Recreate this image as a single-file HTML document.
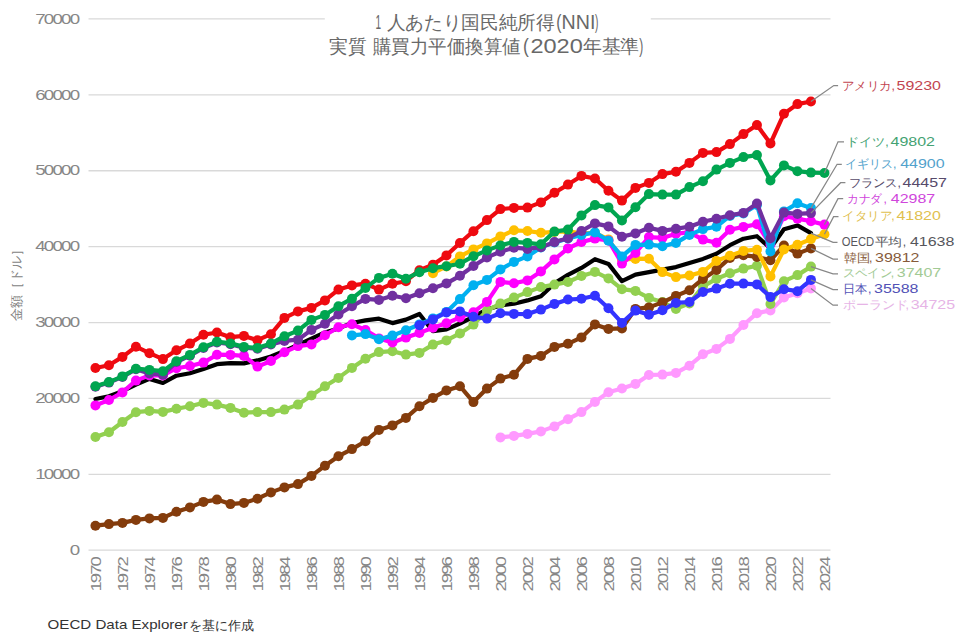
<!DOCTYPE html><html><head><meta charset="utf-8"><style>
html,body{margin:0;padding:0;background:#fff;}
body{width:975px;height:636px;overflow:hidden;position:relative;font-family:"Liberation Sans", sans-serif;}
svg{position:absolute;left:0;top:0;}
text{font-family:"Liberation Sans", sans-serif;}
</style></head><body>
<svg width="975" height="636" viewBox="0 0 975 636">
<line x1="88.5" y1="550.2" x2="830.5" y2="550.2" stroke="#d9d9d9" stroke-width="1.3"/>
<line x1="88.5" y1="474.31" x2="830.5" y2="474.31" stroke="#d9d9d9" stroke-width="1.3"/>
<line x1="88.5" y1="398.42" x2="830.5" y2="398.42" stroke="#d9d9d9" stroke-width="1.3"/>
<line x1="88.5" y1="322.53" x2="830.5" y2="322.53" stroke="#d9d9d9" stroke-width="1.3"/>
<line x1="88.5" y1="246.64" x2="830.5" y2="246.64" stroke="#d9d9d9" stroke-width="1.3"/>
<line x1="88.5" y1="170.75" x2="830.5" y2="170.75" stroke="#d9d9d9" stroke-width="1.3"/>
<line x1="88.5" y1="94.86" x2="830.5" y2="94.86" stroke="#d9d9d9" stroke-width="1.3"/>
<line x1="88.5" y1="18.97" x2="324.8" y2="18.97" stroke="#d9d9d9" stroke-width="1.3"/>
<line x1="650.8" y1="18.97" x2="830.5" y2="18.97" stroke="#d9d9d9" stroke-width="1.3"/>
<text transform="translate(78.4,554.9) scale(1.3,1)" font-size="14.4" letter-spacing="-1.35" fill="#878787" text-anchor="end">0</text>
<text transform="translate(78.4,479.01) scale(1.3,1)" font-size="14.4" letter-spacing="-1.35" fill="#878787" text-anchor="end">10000</text>
<text transform="translate(78.4,403.12) scale(1.3,1)" font-size="14.4" letter-spacing="-1.35" fill="#878787" text-anchor="end">20000</text>
<text transform="translate(78.4,327.23) scale(1.3,1)" font-size="14.4" letter-spacing="-1.35" fill="#878787" text-anchor="end">30000</text>
<text transform="translate(78.4,251.34) scale(1.3,1)" font-size="14.4" letter-spacing="-1.35" fill="#878787" text-anchor="end">40000</text>
<text transform="translate(78.4,175.45) scale(1.3,1)" font-size="14.4" letter-spacing="-1.35" fill="#878787" text-anchor="end">50000</text>
<text transform="translate(78.4,99.56) scale(1.3,1)" font-size="14.4" letter-spacing="-1.35" fill="#878787" text-anchor="end">60000</text>
<text transform="translate(78.4,23.67) scale(1.3,1)" font-size="14.4" letter-spacing="-1.35" fill="#878787" text-anchor="end">70000</text>
<text transform="translate(101.05,558.0) rotate(-90) scale(1.3,1)" font-size="14.2" letter-spacing="-1.45" fill="#868686" text-anchor="end">1970</text>
<text transform="translate(128.05,558.0) rotate(-90) scale(1.3,1)" font-size="14.2" letter-spacing="-1.45" fill="#868686" text-anchor="end">1972</text>
<text transform="translate(155.05,558.0) rotate(-90) scale(1.3,1)" font-size="14.2" letter-spacing="-1.45" fill="#868686" text-anchor="end">1974</text>
<text transform="translate(182.05,558.0) rotate(-90) scale(1.3,1)" font-size="14.2" letter-spacing="-1.45" fill="#868686" text-anchor="end">1976</text>
<text transform="translate(209.05,558.0) rotate(-90) scale(1.3,1)" font-size="14.2" letter-spacing="-1.45" fill="#868686" text-anchor="end">1978</text>
<text transform="translate(236.05,558.0) rotate(-90) scale(1.3,1)" font-size="14.2" letter-spacing="-1.45" fill="#868686" text-anchor="end">1980</text>
<text transform="translate(263.05,558.0) rotate(-90) scale(1.3,1)" font-size="14.2" letter-spacing="-1.45" fill="#868686" text-anchor="end">1982</text>
<text transform="translate(290.05,558.0) rotate(-90) scale(1.3,1)" font-size="14.2" letter-spacing="-1.45" fill="#868686" text-anchor="end">1984</text>
<text transform="translate(317.05,558.0) rotate(-90) scale(1.3,1)" font-size="14.2" letter-spacing="-1.45" fill="#868686" text-anchor="end">1986</text>
<text transform="translate(344.05,558.0) rotate(-90) scale(1.3,1)" font-size="14.2" letter-spacing="-1.45" fill="#868686" text-anchor="end">1988</text>
<text transform="translate(371.05,558.0) rotate(-90) scale(1.3,1)" font-size="14.2" letter-spacing="-1.45" fill="#868686" text-anchor="end">1990</text>
<text transform="translate(398.05,558.0) rotate(-90) scale(1.3,1)" font-size="14.2" letter-spacing="-1.45" fill="#868686" text-anchor="end">1992</text>
<text transform="translate(425.05,558.0) rotate(-90) scale(1.3,1)" font-size="14.2" letter-spacing="-1.45" fill="#868686" text-anchor="end">1994</text>
<text transform="translate(452.05,558.0) rotate(-90) scale(1.3,1)" font-size="14.2" letter-spacing="-1.45" fill="#868686" text-anchor="end">1996</text>
<text transform="translate(479.05,558.0) rotate(-90) scale(1.3,1)" font-size="14.2" letter-spacing="-1.45" fill="#868686" text-anchor="end">1998</text>
<text transform="translate(506.05,558.0) rotate(-90) scale(1.3,1)" font-size="14.2" letter-spacing="-1.45" fill="#868686" text-anchor="end">2000</text>
<text transform="translate(533.05,558.0) rotate(-90) scale(1.3,1)" font-size="14.2" letter-spacing="-1.45" fill="#868686" text-anchor="end">2002</text>
<text transform="translate(560.05,558.0) rotate(-90) scale(1.3,1)" font-size="14.2" letter-spacing="-1.45" fill="#868686" text-anchor="end">2004</text>
<text transform="translate(587.05,558.0) rotate(-90) scale(1.3,1)" font-size="14.2" letter-spacing="-1.45" fill="#868686" text-anchor="end">2006</text>
<text transform="translate(614.05,558.0) rotate(-90) scale(1.3,1)" font-size="14.2" letter-spacing="-1.45" fill="#868686" text-anchor="end">2008</text>
<text transform="translate(641.05,558.0) rotate(-90) scale(1.3,1)" font-size="14.2" letter-spacing="-1.45" fill="#868686" text-anchor="end">2010</text>
<text transform="translate(668.05,558.0) rotate(-90) scale(1.3,1)" font-size="14.2" letter-spacing="-1.45" fill="#868686" text-anchor="end">2012</text>
<text transform="translate(695.05,558.0) rotate(-90) scale(1.3,1)" font-size="14.2" letter-spacing="-1.45" fill="#868686" text-anchor="end">2014</text>
<text transform="translate(722.05,558.0) rotate(-90) scale(1.3,1)" font-size="14.2" letter-spacing="-1.45" fill="#868686" text-anchor="end">2016</text>
<text transform="translate(749.05,558.0) rotate(-90) scale(1.3,1)" font-size="14.2" letter-spacing="-1.45" fill="#868686" text-anchor="end">2018</text>
<text transform="translate(776.05,558.0) rotate(-90) scale(1.3,1)" font-size="14.2" letter-spacing="-1.45" fill="#868686" text-anchor="end">2020</text>
<text transform="translate(803.05,558.0) rotate(-90) scale(1.3,1)" font-size="14.2" letter-spacing="-1.45" fill="#868686" text-anchor="end">2022</text>
<text transform="translate(830.05,558.0) rotate(-90) scale(1.3,1)" font-size="14.2" letter-spacing="-1.45" fill="#868686" text-anchor="end">2024</text>
<path d="M500.45 437.4 L513.95 435.9 L527.45 433.9 L540.95 431.4 L554.45 426.4 L567.95 419.2 L581.45 412.1 L594.95 401.9 L608.45 392.2 L621.95 388.5 L635.45 383.9 L648.95 375 L662.45 374.6 L675.95 372.9 L689.45 365.7 L702.95 354.3 L716.45 348.9 L729.95 338.9 L743.45 325 L756.95 313.2 L770.45 310.4 L783.95 297.4 L797.45 293.2 L810.95 288.4" fill="none" stroke="#ff99ff" stroke-width="4.2" stroke-linejoin="round" stroke-linecap="round"/>
<g fill="#ff99ff">
<circle cx="500.45" cy="437.4" r="5.0"/>
<circle cx="513.95" cy="435.9" r="5.0"/>
<circle cx="527.45" cy="433.9" r="5.0"/>
<circle cx="540.95" cy="431.4" r="5.0"/>
<circle cx="554.45" cy="426.4" r="5.0"/>
<circle cx="567.95" cy="419.2" r="5.0"/>
<circle cx="581.45" cy="412.1" r="5.0"/>
<circle cx="594.95" cy="401.9" r="5.0"/>
<circle cx="608.45" cy="392.2" r="5.0"/>
<circle cx="621.95" cy="388.5" r="5.0"/>
<circle cx="635.45" cy="383.9" r="5.0"/>
<circle cx="648.95" cy="375" r="5.0"/>
<circle cx="662.45" cy="374.6" r="5.0"/>
<circle cx="675.95" cy="372.9" r="5.0"/>
<circle cx="689.45" cy="365.7" r="5.0"/>
<circle cx="702.95" cy="354.3" r="5.0"/>
<circle cx="716.45" cy="348.9" r="5.0"/>
<circle cx="729.95" cy="338.9" r="5.0"/>
<circle cx="743.45" cy="325" r="5.0"/>
<circle cx="756.95" cy="313.2" r="5.0"/>
<circle cx="770.45" cy="310.4" r="5.0"/>
<circle cx="783.95" cy="297.4" r="5.0"/>
<circle cx="797.45" cy="293.2" r="5.0"/>
<circle cx="810.95" cy="288.4" r="5.0"/>
</g>
<path d="M95.45 399 L108.95 396.2 L122.45 391.2 L135.95 384.6 L149.45 378.9 L162.95 383 L176.45 375.7 L189.95 373.2 L203.45 369 L216.95 364.2 L230.45 363.2 L243.95 363.4 L257.45 360.4 L270.95 356.5 L284.45 351 L297.95 344.9 L311.45 338.7 L324.95 332.4 L338.45 328.4 L351.95 323 L365.45 320.4 L378.95 318.7 L392.45 323.1 L405.95 319.6 L419.45 314 L432.95 331.2 L446.45 329.4 L459.95 323.5 L473.45 316.9 L486.95 309.4 L500.45 305.4 L513.95 303.7 L527.45 300.4 L540.95 296.2 L554.45 283.4 L567.95 274.9 L581.45 267.9 L594.95 259.2 L608.45 263.9 L621.95 281.2 L635.45 274.6 L648.95 272.1 L662.45 269.6 L675.95 267.1 L689.45 262.9 L702.95 258.9 L716.45 253.7 L729.95 245.2 L743.45 238.7 L756.95 236.2 L770.45 248.4 L783.95 229.2 L797.45 225.4 L810.95 233.1" fill="none" stroke="#000000" stroke-width="4.2" stroke-linejoin="round" stroke-linecap="round"/>
<path d="M95.45 437 L108.95 432.2 L122.45 422 L135.95 412.2 L149.45 410.9 L162.95 411.9 L176.45 408.7 L189.95 406.2 L203.45 402.9 L216.95 404.6 L230.45 407.9 L243.95 412.7 L257.45 412.1 L270.95 412.1 L284.45 409.6 L297.95 404.6 L311.45 395.4 L324.95 386.2 L338.45 377.9 L351.95 367.9 L365.45 358.7 L378.95 352.1 L392.45 351.2 L405.95 354.6 L419.45 352.9 L432.95 344.6 L446.45 340.4 L459.95 333.4 L473.45 324.6 L486.95 310.7 L500.45 303.6 L513.95 297.6 L527.45 292.1 L540.95 287.1 L554.45 284.6 L567.95 282 L581.45 275.9 L594.95 271.9 L608.45 278.4 L621.95 289.2 L635.45 290.9 L648.95 297.9 L662.45 302 L675.95 308.9 L689.45 303.4 L702.95 286.4 L716.45 278.9 L729.95 273.2 L743.45 268.6 L756.95 265.7 L770.45 304 L783.95 281.2 L797.45 275.1 L810.95 266.6" fill="none" stroke="#92d050" stroke-width="4.2" stroke-linejoin="round" stroke-linecap="round"/>
<g fill="#92d050">
<circle cx="95.45" cy="437" r="5.0"/>
<circle cx="108.95" cy="432.2" r="5.0"/>
<circle cx="122.45" cy="422" r="5.0"/>
<circle cx="135.95" cy="412.2" r="5.0"/>
<circle cx="149.45" cy="410.9" r="5.0"/>
<circle cx="162.95" cy="411.9" r="5.0"/>
<circle cx="176.45" cy="408.7" r="5.0"/>
<circle cx="189.95" cy="406.2" r="5.0"/>
<circle cx="203.45" cy="402.9" r="5.0"/>
<circle cx="216.95" cy="404.6" r="5.0"/>
<circle cx="230.45" cy="407.9" r="5.0"/>
<circle cx="243.95" cy="412.7" r="5.0"/>
<circle cx="257.45" cy="412.1" r="5.0"/>
<circle cx="270.95" cy="412.1" r="5.0"/>
<circle cx="284.45" cy="409.6" r="5.0"/>
<circle cx="297.95" cy="404.6" r="5.0"/>
<circle cx="311.45" cy="395.4" r="5.0"/>
<circle cx="324.95" cy="386.2" r="5.0"/>
<circle cx="338.45" cy="377.9" r="5.0"/>
<circle cx="351.95" cy="367.9" r="5.0"/>
<circle cx="365.45" cy="358.7" r="5.0"/>
<circle cx="378.95" cy="352.1" r="5.0"/>
<circle cx="392.45" cy="351.2" r="5.0"/>
<circle cx="405.95" cy="354.6" r="5.0"/>
<circle cx="419.45" cy="352.9" r="5.0"/>
<circle cx="432.95" cy="344.6" r="5.0"/>
<circle cx="446.45" cy="340.4" r="5.0"/>
<circle cx="459.95" cy="333.4" r="5.0"/>
<circle cx="473.45" cy="324.6" r="5.0"/>
<circle cx="486.95" cy="310.7" r="5.0"/>
<circle cx="500.45" cy="303.6" r="5.0"/>
<circle cx="513.95" cy="297.6" r="5.0"/>
<circle cx="527.45" cy="292.1" r="5.0"/>
<circle cx="540.95" cy="287.1" r="5.0"/>
<circle cx="554.45" cy="284.6" r="5.0"/>
<circle cx="567.95" cy="282" r="5.0"/>
<circle cx="581.45" cy="275.9" r="5.0"/>
<circle cx="594.95" cy="271.9" r="5.0"/>
<circle cx="608.45" cy="278.4" r="5.0"/>
<circle cx="621.95" cy="289.2" r="5.0"/>
<circle cx="635.45" cy="290.9" r="5.0"/>
<circle cx="648.95" cy="297.9" r="5.0"/>
<circle cx="662.45" cy="302" r="5.0"/>
<circle cx="675.95" cy="308.9" r="5.0"/>
<circle cx="689.45" cy="303.4" r="5.0"/>
<circle cx="702.95" cy="286.4" r="5.0"/>
<circle cx="716.45" cy="278.9" r="5.0"/>
<circle cx="729.95" cy="273.2" r="5.0"/>
<circle cx="743.45" cy="268.6" r="5.0"/>
<circle cx="756.95" cy="265.7" r="5.0"/>
<circle cx="770.45" cy="304" r="5.0"/>
<circle cx="783.95" cy="281.2" r="5.0"/>
<circle cx="797.45" cy="275.1" r="5.0"/>
<circle cx="810.95" cy="266.6" r="5.0"/>
</g>
<path d="M95.45 525.7 L108.95 524.1 L122.45 522.9 L135.95 519.9 L149.45 518.4 L162.95 517.9 L176.45 511.7 L189.95 507.4 L203.45 501.9 L216.95 499.6 L230.45 504.1 L243.95 502.9 L257.45 498.7 L270.95 492.4 L284.45 487.4 L297.95 484.1 L311.45 475.9 L324.95 465.7 L338.45 456.2 L351.95 449.1 L365.45 441.2 L378.95 429.9 L392.45 425.4 L405.95 417.9 L419.45 406.2 L432.95 397.9 L446.45 390.4 L459.95 386.2 L473.45 402.1 L486.95 388.6 L500.45 378.6 L513.95 374.8 L527.45 358.9 L540.95 355.9 L554.45 346.9 L567.95 343.8 L581.45 337.4 L594.95 324.4 L608.45 328.9 L621.95 328.4 L635.45 308.9 L648.95 307.4 L662.45 302.4 L675.95 295.9 L689.45 290.2 L702.95 278.9 L716.45 269.9 L729.95 257.9 L743.45 255.2 L756.95 256.9 L770.45 260.2 L783.95 245.6 L797.45 253.6 L810.95 248.4" fill="none" stroke="#843c0c" stroke-width="4.2" stroke-linejoin="round" stroke-linecap="round"/>
<g fill="#843c0c">
<circle cx="95.45" cy="525.7" r="5.0"/>
<circle cx="108.95" cy="524.1" r="5.0"/>
<circle cx="122.45" cy="522.9" r="5.0"/>
<circle cx="135.95" cy="519.9" r="5.0"/>
<circle cx="149.45" cy="518.4" r="5.0"/>
<circle cx="162.95" cy="517.9" r="5.0"/>
<circle cx="176.45" cy="511.7" r="5.0"/>
<circle cx="189.95" cy="507.4" r="5.0"/>
<circle cx="203.45" cy="501.9" r="5.0"/>
<circle cx="216.95" cy="499.6" r="5.0"/>
<circle cx="230.45" cy="504.1" r="5.0"/>
<circle cx="243.95" cy="502.9" r="5.0"/>
<circle cx="257.45" cy="498.7" r="5.0"/>
<circle cx="270.95" cy="492.4" r="5.0"/>
<circle cx="284.45" cy="487.4" r="5.0"/>
<circle cx="297.95" cy="484.1" r="5.0"/>
<circle cx="311.45" cy="475.9" r="5.0"/>
<circle cx="324.95" cy="465.7" r="5.0"/>
<circle cx="338.45" cy="456.2" r="5.0"/>
<circle cx="351.95" cy="449.1" r="5.0"/>
<circle cx="365.45" cy="441.2" r="5.0"/>
<circle cx="378.95" cy="429.9" r="5.0"/>
<circle cx="392.45" cy="425.4" r="5.0"/>
<circle cx="405.95" cy="417.9" r="5.0"/>
<circle cx="419.45" cy="406.2" r="5.0"/>
<circle cx="432.95" cy="397.9" r="5.0"/>
<circle cx="446.45" cy="390.4" r="5.0"/>
<circle cx="459.95" cy="386.2" r="5.0"/>
<circle cx="473.45" cy="402.1" r="5.0"/>
<circle cx="486.95" cy="388.6" r="5.0"/>
<circle cx="500.45" cy="378.6" r="5.0"/>
<circle cx="513.95" cy="374.8" r="5.0"/>
<circle cx="527.45" cy="358.9" r="5.0"/>
<circle cx="540.95" cy="355.9" r="5.0"/>
<circle cx="554.45" cy="346.9" r="5.0"/>
<circle cx="567.95" cy="343.8" r="5.0"/>
<circle cx="581.45" cy="337.4" r="5.0"/>
<circle cx="594.95" cy="324.4" r="5.0"/>
<circle cx="608.45" cy="328.9" r="5.0"/>
<circle cx="621.95" cy="328.4" r="5.0"/>
<circle cx="635.45" cy="308.9" r="5.0"/>
<circle cx="648.95" cy="307.4" r="5.0"/>
<circle cx="662.45" cy="302.4" r="5.0"/>
<circle cx="675.95" cy="295.9" r="5.0"/>
<circle cx="689.45" cy="290.2" r="5.0"/>
<circle cx="702.95" cy="278.9" r="5.0"/>
<circle cx="716.45" cy="269.9" r="5.0"/>
<circle cx="729.95" cy="257.9" r="5.0"/>
<circle cx="743.45" cy="255.2" r="5.0"/>
<circle cx="756.95" cy="256.9" r="5.0"/>
<circle cx="770.45" cy="260.2" r="5.0"/>
<circle cx="783.95" cy="245.6" r="5.0"/>
<circle cx="797.45" cy="253.6" r="5.0"/>
<circle cx="810.95" cy="248.4" r="5.0"/>
</g>
<path d="M432.95 273.2 L446.45 266.4 L459.95 256.4 L473.45 249.4 L486.95 243.4 L500.45 236.4 L513.95 230.3 L527.45 231 L540.95 232.8 L554.45 231.9 L567.95 231.4 L581.45 233.4 L594.95 232.9 L608.45 239.4 L621.95 259.4 L635.45 258.9 L648.95 258.7 L662.45 272.1 L675.95 277.1 L689.45 275.5 L702.95 271.9 L716.45 260.9 L729.95 255.7 L743.45 250.9 L756.95 249.7 L770.45 276.4 L783.95 249.5 L797.45 244.7 L810.95 239.1 L824.45 234.2" fill="none" stroke="#ffc000" stroke-width="4.2" stroke-linejoin="round" stroke-linecap="round"/>
<g fill="#ffc000">
<circle cx="432.95" cy="273.2" r="5.0"/>
<circle cx="446.45" cy="266.4" r="5.0"/>
<circle cx="459.95" cy="256.4" r="5.0"/>
<circle cx="473.45" cy="249.4" r="5.0"/>
<circle cx="486.95" cy="243.4" r="5.0"/>
<circle cx="500.45" cy="236.4" r="5.0"/>
<circle cx="513.95" cy="230.3" r="5.0"/>
<circle cx="527.45" cy="231" r="5.0"/>
<circle cx="540.95" cy="232.8" r="5.0"/>
<circle cx="554.45" cy="231.9" r="5.0"/>
<circle cx="567.95" cy="231.4" r="5.0"/>
<circle cx="581.45" cy="233.4" r="5.0"/>
<circle cx="594.95" cy="232.9" r="5.0"/>
<circle cx="608.45" cy="239.4" r="5.0"/>
<circle cx="621.95" cy="259.4" r="5.0"/>
<circle cx="635.45" cy="258.9" r="5.0"/>
<circle cx="648.95" cy="258.7" r="5.0"/>
<circle cx="662.45" cy="272.1" r="5.0"/>
<circle cx="675.95" cy="277.1" r="5.0"/>
<circle cx="689.45" cy="275.5" r="5.0"/>
<circle cx="702.95" cy="271.9" r="5.0"/>
<circle cx="716.45" cy="260.9" r="5.0"/>
<circle cx="729.95" cy="255.7" r="5.0"/>
<circle cx="743.45" cy="250.9" r="5.0"/>
<circle cx="756.95" cy="249.7" r="5.0"/>
<circle cx="770.45" cy="276.4" r="5.0"/>
<circle cx="783.95" cy="249.5" r="5.0"/>
<circle cx="797.45" cy="244.7" r="5.0"/>
<circle cx="810.95" cy="239.1" r="5.0"/>
<circle cx="824.45" cy="234.2" r="5.0"/>
</g>
<path d="M95.45 405.4 L108.95 400 L122.45 392.4 L135.95 380.6 L149.45 375.4 L162.95 375.4 L176.45 368.2 L189.95 366 L203.45 362.6 L216.95 354.7 L230.45 354.9 L243.95 355.9 L257.45 366.6 L270.95 361 L284.45 352.2 L297.95 346.1 L311.45 344.4 L324.95 335.2 L338.45 327.2 L351.95 324.2 L365.45 330 L378.95 338.4 L392.45 342.4 L405.95 337.6 L419.45 332.9 L432.95 327.7 L446.45 323.3 L459.95 317.4 L473.45 312.2 L486.95 301.9 L500.45 281.9 L513.95 283.2 L527.45 280.4 L540.95 271.4 L554.45 259.4 L567.95 248.4 L581.45 242 L594.95 238.6 L608.45 240.4 L621.95 263.6 L635.45 252.9 L648.95 237.1 L662.45 237.9 L675.95 233.7 L689.45 232.4 L702.95 239.6 L716.45 242.7 L729.95 229.8 L743.45 226.9 L756.95 224.2 L770.45 244.4 L783.95 216.2 L797.45 218.6 L810.95 221.2 L824.45 224.6" fill="none" stroke="#ff00ff" stroke-width="4.2" stroke-linejoin="round" stroke-linecap="round"/>
<g fill="#ff00ff">
<circle cx="95.45" cy="405.4" r="5.0"/>
<circle cx="108.95" cy="400" r="5.0"/>
<circle cx="122.45" cy="392.4" r="5.0"/>
<circle cx="135.95" cy="380.6" r="5.0"/>
<circle cx="149.45" cy="375.4" r="5.0"/>
<circle cx="162.95" cy="375.4" r="5.0"/>
<circle cx="176.45" cy="368.2" r="5.0"/>
<circle cx="189.95" cy="366" r="5.0"/>
<circle cx="203.45" cy="362.6" r="5.0"/>
<circle cx="216.95" cy="354.7" r="5.0"/>
<circle cx="230.45" cy="354.9" r="5.0"/>
<circle cx="243.95" cy="355.9" r="5.0"/>
<circle cx="257.45" cy="366.6" r="5.0"/>
<circle cx="270.95" cy="361" r="5.0"/>
<circle cx="284.45" cy="352.2" r="5.0"/>
<circle cx="297.95" cy="346.1" r="5.0"/>
<circle cx="311.45" cy="344.4" r="5.0"/>
<circle cx="324.95" cy="335.2" r="5.0"/>
<circle cx="338.45" cy="327.2" r="5.0"/>
<circle cx="351.95" cy="324.2" r="5.0"/>
<circle cx="365.45" cy="330" r="5.0"/>
<circle cx="378.95" cy="338.4" r="5.0"/>
<circle cx="392.45" cy="342.4" r="5.0"/>
<circle cx="405.95" cy="337.6" r="5.0"/>
<circle cx="419.45" cy="332.9" r="5.0"/>
<circle cx="432.95" cy="327.7" r="5.0"/>
<circle cx="446.45" cy="323.3" r="5.0"/>
<circle cx="459.95" cy="317.4" r="5.0"/>
<circle cx="473.45" cy="312.2" r="5.0"/>
<circle cx="486.95" cy="301.9" r="5.0"/>
<circle cx="500.45" cy="281.9" r="5.0"/>
<circle cx="513.95" cy="283.2" r="5.0"/>
<circle cx="527.45" cy="280.4" r="5.0"/>
<circle cx="540.95" cy="271.4" r="5.0"/>
<circle cx="554.45" cy="259.4" r="5.0"/>
<circle cx="567.95" cy="248.4" r="5.0"/>
<circle cx="581.45" cy="242" r="5.0"/>
<circle cx="594.95" cy="238.6" r="5.0"/>
<circle cx="608.45" cy="240.4" r="5.0"/>
<circle cx="621.95" cy="263.6" r="5.0"/>
<circle cx="635.45" cy="252.9" r="5.0"/>
<circle cx="648.95" cy="237.1" r="5.0"/>
<circle cx="662.45" cy="237.9" r="5.0"/>
<circle cx="675.95" cy="233.7" r="5.0"/>
<circle cx="689.45" cy="232.4" r="5.0"/>
<circle cx="702.95" cy="239.6" r="5.0"/>
<circle cx="716.45" cy="242.7" r="5.0"/>
<circle cx="729.95" cy="229.8" r="5.0"/>
<circle cx="743.45" cy="226.9" r="5.0"/>
<circle cx="756.95" cy="224.2" r="5.0"/>
<circle cx="770.45" cy="244.4" r="5.0"/>
<circle cx="783.95" cy="216.2" r="5.0"/>
<circle cx="797.45" cy="218.6" r="5.0"/>
<circle cx="810.95" cy="221.2" r="5.0"/>
<circle cx="824.45" cy="224.6" r="5.0"/>
</g>
<path d="M351.95 335.4 L365.45 334.1 L378.95 339.3 L392.45 335.6 L405.95 330.2 L419.45 324.4 L432.95 318.4 L446.45 311.9 L459.95 299.1 L473.45 285.2 L486.95 279.9 L500.45 269.4 L513.95 261.9 L527.45 256.4 L540.95 247.4 L554.45 242.4 L567.95 238.4 L581.45 234.9 L594.95 232.4 L608.45 240.7 L621.95 256.4 L635.45 244.9 L648.95 244.6 L662.45 246.2 L675.95 242.9 L689.45 234.9 L702.95 229.1 L716.45 226.7 L729.95 215.9 L743.45 213.4 L756.95 204.9 L770.45 251.4 L783.95 211.4 L797.45 203.2 L810.95 208.1" fill="none" stroke="#00b0f0" stroke-width="4.2" stroke-linejoin="round" stroke-linecap="round"/>
<g fill="#00b0f0">
<circle cx="351.95" cy="335.4" r="5.0"/>
<circle cx="365.45" cy="334.1" r="5.0"/>
<circle cx="378.95" cy="339.3" r="5.0"/>
<circle cx="392.45" cy="335.6" r="5.0"/>
<circle cx="405.95" cy="330.2" r="5.0"/>
<circle cx="419.45" cy="324.4" r="5.0"/>
<circle cx="432.95" cy="318.4" r="5.0"/>
<circle cx="446.45" cy="311.9" r="5.0"/>
<circle cx="459.95" cy="299.1" r="5.0"/>
<circle cx="473.45" cy="285.2" r="5.0"/>
<circle cx="486.95" cy="279.9" r="5.0"/>
<circle cx="500.45" cy="269.4" r="5.0"/>
<circle cx="513.95" cy="261.9" r="5.0"/>
<circle cx="527.45" cy="256.4" r="5.0"/>
<circle cx="540.95" cy="247.4" r="5.0"/>
<circle cx="554.45" cy="242.4" r="5.0"/>
<circle cx="567.95" cy="238.4" r="5.0"/>
<circle cx="581.45" cy="234.9" r="5.0"/>
<circle cx="594.95" cy="232.4" r="5.0"/>
<circle cx="608.45" cy="240.7" r="5.0"/>
<circle cx="621.95" cy="256.4" r="5.0"/>
<circle cx="635.45" cy="244.9" r="5.0"/>
<circle cx="648.95" cy="244.6" r="5.0"/>
<circle cx="662.45" cy="246.2" r="5.0"/>
<circle cx="675.95" cy="242.9" r="5.0"/>
<circle cx="689.45" cy="234.9" r="5.0"/>
<circle cx="702.95" cy="229.1" r="5.0"/>
<circle cx="716.45" cy="226.7" r="5.0"/>
<circle cx="729.95" cy="215.9" r="5.0"/>
<circle cx="743.45" cy="213.4" r="5.0"/>
<circle cx="756.95" cy="204.9" r="5.0"/>
<circle cx="770.45" cy="251.4" r="5.0"/>
<circle cx="783.95" cy="211.4" r="5.0"/>
<circle cx="797.45" cy="203.2" r="5.0"/>
<circle cx="810.95" cy="208.1" r="5.0"/>
</g>
<path d="M95.45 386.7 L108.95 382.6 L122.45 376.9 L135.95 369.2 L149.45 373.4 L162.95 374.7 L176.45 362 L189.95 355.7 L203.45 348 L216.95 342.5 L230.45 344.2 L243.95 347.7 L257.45 348.7 L270.95 344.4 L284.45 340.9 L297.95 339.7 L311.45 329.9 L324.95 323.8 L338.45 314.4 L351.95 306.2 L365.45 298.9 L378.95 299.9 L392.45 295.8 L405.95 298.2 L419.45 293.2 L432.95 288.2 L446.45 283.4 L459.95 275.8 L473.45 266 L486.95 257.4 L500.45 251.7 L513.95 247.7 L527.45 248.9 L540.95 247.2 L554.45 242.1 L567.95 238.2 L581.45 231 L594.95 223.4 L608.45 226.4 L621.95 236.7 L635.45 233.4 L648.95 227.7 L662.45 230.9 L675.95 228.7 L689.45 226.7 L702.95 221.7 L716.45 218.7 L729.95 215.2 L743.45 212.9 L756.95 203.5 L770.45 238.2 L783.95 212.6 L797.45 213.9 L810.95 213.1" fill="none" stroke="#7030a0" stroke-width="4.2" stroke-linejoin="round" stroke-linecap="round"/>
<g fill="#7030a0">
<circle cx="95.45" cy="386.7" r="5.0"/>
<circle cx="108.95" cy="382.6" r="5.0"/>
<circle cx="122.45" cy="376.9" r="5.0"/>
<circle cx="135.95" cy="369.2" r="5.0"/>
<circle cx="149.45" cy="373.4" r="5.0"/>
<circle cx="162.95" cy="374.7" r="5.0"/>
<circle cx="176.45" cy="362" r="5.0"/>
<circle cx="189.95" cy="355.7" r="5.0"/>
<circle cx="203.45" cy="348" r="5.0"/>
<circle cx="216.95" cy="342.5" r="5.0"/>
<circle cx="230.45" cy="344.2" r="5.0"/>
<circle cx="243.95" cy="347.7" r="5.0"/>
<circle cx="257.45" cy="348.7" r="5.0"/>
<circle cx="270.95" cy="344.4" r="5.0"/>
<circle cx="284.45" cy="340.9" r="5.0"/>
<circle cx="297.95" cy="339.7" r="5.0"/>
<circle cx="311.45" cy="329.9" r="5.0"/>
<circle cx="324.95" cy="323.8" r="5.0"/>
<circle cx="338.45" cy="314.4" r="5.0"/>
<circle cx="351.95" cy="306.2" r="5.0"/>
<circle cx="365.45" cy="298.9" r="5.0"/>
<circle cx="378.95" cy="299.9" r="5.0"/>
<circle cx="392.45" cy="295.8" r="5.0"/>
<circle cx="405.95" cy="298.2" r="5.0"/>
<circle cx="419.45" cy="293.2" r="5.0"/>
<circle cx="432.95" cy="288.2" r="5.0"/>
<circle cx="446.45" cy="283.4" r="5.0"/>
<circle cx="459.95" cy="275.8" r="5.0"/>
<circle cx="473.45" cy="266" r="5.0"/>
<circle cx="486.95" cy="257.4" r="5.0"/>
<circle cx="500.45" cy="251.7" r="5.0"/>
<circle cx="513.95" cy="247.7" r="5.0"/>
<circle cx="527.45" cy="248.9" r="5.0"/>
<circle cx="540.95" cy="247.2" r="5.0"/>
<circle cx="554.45" cy="242.1" r="5.0"/>
<circle cx="567.95" cy="238.2" r="5.0"/>
<circle cx="581.45" cy="231" r="5.0"/>
<circle cx="594.95" cy="223.4" r="5.0"/>
<circle cx="608.45" cy="226.4" r="5.0"/>
<circle cx="621.95" cy="236.7" r="5.0"/>
<circle cx="635.45" cy="233.4" r="5.0"/>
<circle cx="648.95" cy="227.7" r="5.0"/>
<circle cx="662.45" cy="230.9" r="5.0"/>
<circle cx="675.95" cy="228.7" r="5.0"/>
<circle cx="689.45" cy="226.7" r="5.0"/>
<circle cx="702.95" cy="221.7" r="5.0"/>
<circle cx="716.45" cy="218.7" r="5.0"/>
<circle cx="729.95" cy="215.2" r="5.0"/>
<circle cx="743.45" cy="212.9" r="5.0"/>
<circle cx="756.95" cy="203.5" r="5.0"/>
<circle cx="770.45" cy="238.2" r="5.0"/>
<circle cx="783.95" cy="212.6" r="5.0"/>
<circle cx="797.45" cy="213.9" r="5.0"/>
<circle cx="810.95" cy="213.1" r="5.0"/>
</g>
<path d="M95.45 368 L108.95 365.2 L122.45 356.9 L135.95 346.7 L149.45 353.2 L162.95 359.1 L176.45 350.3 L189.95 343.6 L203.45 334.8 L216.95 332.5 L230.45 337.2 L243.95 335.9 L257.45 340.2 L270.95 334.2 L284.45 317.9 L297.95 311.4 L311.45 307.9 L324.95 300.4 L338.45 289.6 L351.95 285.4 L365.45 283.7 L378.95 289.6 L392.45 283.7 L405.95 281.2 L419.45 270.2 L432.95 264.7 L446.45 255.4 L459.95 243 L473.45 231.2 L486.95 220.1 L500.45 209.1 L513.95 207.9 L527.45 207.6 L540.95 202.4 L554.45 192.7 L567.95 184.6 L581.45 175.9 L594.95 178.5 L608.45 190.7 L621.95 200.6 L635.45 187.9 L648.95 182.9 L662.45 174.1 L675.95 171.7 L689.45 162.9 L702.95 152.9 L716.45 152.1 L729.95 144.1 L743.45 134.1 L756.95 125.1 L770.45 143.4 L783.95 113.7 L797.45 104.1 L810.95 101.5" fill="none" stroke="#ee0a10" stroke-width="4.2" stroke-linejoin="round" stroke-linecap="round"/>
<g fill="#ee0a10">
<circle cx="95.45" cy="368" r="5.0"/>
<circle cx="108.95" cy="365.2" r="5.0"/>
<circle cx="122.45" cy="356.9" r="5.0"/>
<circle cx="135.95" cy="346.7" r="5.0"/>
<circle cx="149.45" cy="353.2" r="5.0"/>
<circle cx="162.95" cy="359.1" r="5.0"/>
<circle cx="176.45" cy="350.3" r="5.0"/>
<circle cx="189.95" cy="343.6" r="5.0"/>
<circle cx="203.45" cy="334.8" r="5.0"/>
<circle cx="216.95" cy="332.5" r="5.0"/>
<circle cx="230.45" cy="337.2" r="5.0"/>
<circle cx="243.95" cy="335.9" r="5.0"/>
<circle cx="257.45" cy="340.2" r="5.0"/>
<circle cx="270.95" cy="334.2" r="5.0"/>
<circle cx="284.45" cy="317.9" r="5.0"/>
<circle cx="297.95" cy="311.4" r="5.0"/>
<circle cx="311.45" cy="307.9" r="5.0"/>
<circle cx="324.95" cy="300.4" r="5.0"/>
<circle cx="338.45" cy="289.6" r="5.0"/>
<circle cx="351.95" cy="285.4" r="5.0"/>
<circle cx="365.45" cy="283.7" r="5.0"/>
<circle cx="378.95" cy="289.6" r="5.0"/>
<circle cx="392.45" cy="283.7" r="5.0"/>
<circle cx="405.95" cy="281.2" r="5.0"/>
<circle cx="419.45" cy="270.2" r="5.0"/>
<circle cx="432.95" cy="264.7" r="5.0"/>
<circle cx="446.45" cy="255.4" r="5.0"/>
<circle cx="459.95" cy="243" r="5.0"/>
<circle cx="473.45" cy="231.2" r="5.0"/>
<circle cx="486.95" cy="220.1" r="5.0"/>
<circle cx="500.45" cy="209.1" r="5.0"/>
<circle cx="513.95" cy="207.9" r="5.0"/>
<circle cx="527.45" cy="207.6" r="5.0"/>
<circle cx="540.95" cy="202.4" r="5.0"/>
<circle cx="554.45" cy="192.7" r="5.0"/>
<circle cx="567.95" cy="184.6" r="5.0"/>
<circle cx="581.45" cy="175.9" r="5.0"/>
<circle cx="594.95" cy="178.5" r="5.0"/>
<circle cx="608.45" cy="190.7" r="5.0"/>
<circle cx="621.95" cy="200.6" r="5.0"/>
<circle cx="635.45" cy="187.9" r="5.0"/>
<circle cx="648.95" cy="182.9" r="5.0"/>
<circle cx="662.45" cy="174.1" r="5.0"/>
<circle cx="675.95" cy="171.7" r="5.0"/>
<circle cx="689.45" cy="162.9" r="5.0"/>
<circle cx="702.95" cy="152.9" r="5.0"/>
<circle cx="716.45" cy="152.1" r="5.0"/>
<circle cx="729.95" cy="144.1" r="5.0"/>
<circle cx="743.45" cy="134.1" r="5.0"/>
<circle cx="756.95" cy="125.1" r="5.0"/>
<circle cx="770.45" cy="143.4" r="5.0"/>
<circle cx="783.95" cy="113.7" r="5.0"/>
<circle cx="797.45" cy="104.1" r="5.0"/>
<circle cx="810.95" cy="101.5" r="5.0"/>
</g>
<path d="M95.45 386.2 L108.95 382.1 L122.45 376.4 L135.95 368.7 L149.45 369.9 L162.95 371.2 L176.45 361.2 L189.95 354.9 L203.45 347.2 L216.95 341.7 L230.45 343.4 L243.95 346.9 L257.45 347.9 L270.95 343.6 L284.45 336.2 L297.95 330.6 L311.45 319.9 L324.95 314.9 L338.45 306.2 L351.95 298.7 L365.45 287.9 L378.95 277.9 L392.45 273.7 L405.95 278.7 L419.45 272.2 L432.95 268.2 L446.45 266.2 L459.95 263.7 L473.45 256.2 L486.95 250.4 L500.45 245.4 L513.95 241.9 L527.45 242.9 L540.95 244.3 L554.45 231.6 L567.95 229.6 L581.45 215.4 L594.95 205.1 L608.45 207.4 L621.95 220.5 L635.45 207.2 L648.95 194.1 L662.45 194.6 L675.95 194.6 L689.45 187.1 L702.95 181.2 L716.45 169.6 L729.95 162.9 L743.45 157.1 L756.95 155.1 L770.45 180.4 L783.95 165.4 L797.45 171.2 L810.95 172.6 L824.45 173" fill="none" stroke="#00a550" stroke-width="4.2" stroke-linejoin="round" stroke-linecap="round"/>
<g fill="#00a550">
<circle cx="95.45" cy="386.2" r="5.0"/>
<circle cx="108.95" cy="382.1" r="5.0"/>
<circle cx="122.45" cy="376.4" r="5.0"/>
<circle cx="135.95" cy="368.7" r="5.0"/>
<circle cx="149.45" cy="369.9" r="5.0"/>
<circle cx="162.95" cy="371.2" r="5.0"/>
<circle cx="176.45" cy="361.2" r="5.0"/>
<circle cx="189.95" cy="354.9" r="5.0"/>
<circle cx="203.45" cy="347.2" r="5.0"/>
<circle cx="216.95" cy="341.7" r="5.0"/>
<circle cx="230.45" cy="343.4" r="5.0"/>
<circle cx="243.95" cy="346.9" r="5.0"/>
<circle cx="257.45" cy="347.9" r="5.0"/>
<circle cx="270.95" cy="343.6" r="5.0"/>
<circle cx="284.45" cy="336.2" r="5.0"/>
<circle cx="297.95" cy="330.6" r="5.0"/>
<circle cx="311.45" cy="319.9" r="5.0"/>
<circle cx="324.95" cy="314.9" r="5.0"/>
<circle cx="338.45" cy="306.2" r="5.0"/>
<circle cx="351.95" cy="298.7" r="5.0"/>
<circle cx="365.45" cy="287.9" r="5.0"/>
<circle cx="378.95" cy="277.9" r="5.0"/>
<circle cx="392.45" cy="273.7" r="5.0"/>
<circle cx="405.95" cy="278.7" r="5.0"/>
<circle cx="419.45" cy="272.2" r="5.0"/>
<circle cx="432.95" cy="268.2" r="5.0"/>
<circle cx="446.45" cy="266.2" r="5.0"/>
<circle cx="459.95" cy="263.7" r="5.0"/>
<circle cx="473.45" cy="256.2" r="5.0"/>
<circle cx="486.95" cy="250.4" r="5.0"/>
<circle cx="500.45" cy="245.4" r="5.0"/>
<circle cx="513.95" cy="241.9" r="5.0"/>
<circle cx="527.45" cy="242.9" r="5.0"/>
<circle cx="540.95" cy="244.3" r="5.0"/>
<circle cx="554.45" cy="231.6" r="5.0"/>
<circle cx="567.95" cy="229.6" r="5.0"/>
<circle cx="581.45" cy="215.4" r="5.0"/>
<circle cx="594.95" cy="205.1" r="5.0"/>
<circle cx="608.45" cy="207.4" r="5.0"/>
<circle cx="621.95" cy="220.5" r="5.0"/>
<circle cx="635.45" cy="207.2" r="5.0"/>
<circle cx="648.95" cy="194.1" r="5.0"/>
<circle cx="662.45" cy="194.6" r="5.0"/>
<circle cx="675.95" cy="194.6" r="5.0"/>
<circle cx="689.45" cy="187.1" r="5.0"/>
<circle cx="702.95" cy="181.2" r="5.0"/>
<circle cx="716.45" cy="169.6" r="5.0"/>
<circle cx="729.95" cy="162.9" r="5.0"/>
<circle cx="743.45" cy="157.1" r="5.0"/>
<circle cx="756.95" cy="155.1" r="5.0"/>
<circle cx="770.45" cy="180.4" r="5.0"/>
<circle cx="783.95" cy="165.4" r="5.0"/>
<circle cx="797.45" cy="171.2" r="5.0"/>
<circle cx="810.95" cy="172.6" r="5.0"/>
<circle cx="824.45" cy="173" r="5.0"/>
</g>
<path d="M419.45 325.2 L432.95 319.4 L446.45 312.4 L459.95 311.4 L473.45 316.8 L486.95 318.6 L500.45 313.2 L513.95 313.9 L527.45 314.1 L540.95 309.6 L554.45 303.9 L567.95 299.5 L581.45 298.8 L594.95 295.7 L608.45 308.2 L621.95 322.9 L635.45 310.6 L648.95 314.8 L662.45 310.2 L675.95 302.9 L689.45 302 L702.95 292 L716.45 288.6 L729.95 283.7 L743.45 283.6 L756.95 284.4 L770.45 297.1 L783.95 289.2 L797.45 291.2 L810.95 279.9" fill="none" stroke="#3333ff" stroke-width="4.2" stroke-linejoin="round" stroke-linecap="round"/>
<g fill="#3333ff">
<circle cx="419.45" cy="325.2" r="5.0"/>
<circle cx="432.95" cy="319.4" r="5.0"/>
<circle cx="446.45" cy="312.4" r="5.0"/>
<circle cx="459.95" cy="311.4" r="5.0"/>
<circle cx="473.45" cy="316.8" r="5.0"/>
<circle cx="486.95" cy="318.6" r="5.0"/>
<circle cx="500.45" cy="313.2" r="5.0"/>
<circle cx="513.95" cy="313.9" r="5.0"/>
<circle cx="527.45" cy="314.1" r="5.0"/>
<circle cx="540.95" cy="309.6" r="5.0"/>
<circle cx="554.45" cy="303.9" r="5.0"/>
<circle cx="567.95" cy="299.5" r="5.0"/>
<circle cx="581.45" cy="298.8" r="5.0"/>
<circle cx="594.95" cy="295.7" r="5.0"/>
<circle cx="608.45" cy="308.2" r="5.0"/>
<circle cx="621.95" cy="322.9" r="5.0"/>
<circle cx="635.45" cy="310.6" r="5.0"/>
<circle cx="648.95" cy="314.8" r="5.0"/>
<circle cx="662.45" cy="310.2" r="5.0"/>
<circle cx="675.95" cy="302.9" r="5.0"/>
<circle cx="689.45" cy="302" r="5.0"/>
<circle cx="702.95" cy="292" r="5.0"/>
<circle cx="716.45" cy="288.6" r="5.0"/>
<circle cx="729.95" cy="283.7" r="5.0"/>
<circle cx="743.45" cy="283.6" r="5.0"/>
<circle cx="756.95" cy="284.4" r="5.0"/>
<circle cx="770.45" cy="297.1" r="5.0"/>
<circle cx="783.95" cy="289.2" r="5.0"/>
<circle cx="797.45" cy="291.2" r="5.0"/>
<circle cx="810.95" cy="279.9" r="5.0"/>
</g>
<polyline points="810.95,101.5 833.8,85.5 838.1,85.5" fill="none" stroke="#878787" stroke-width="1.25"/>
<polyline points="824.45,173 838,141.8 844,141.8" fill="none" stroke="#878787" stroke-width="1.25"/>
<polyline points="810.95,208.1 837.1,164.3 841.8,164.3" fill="none" stroke="#878787" stroke-width="1.25"/>
<polyline points="810.95,213.1 840.6,182.7 845.4,182.7" fill="none" stroke="#878787" stroke-width="1.25"/>
<polyline points="824.45,224.6 838,198.7 843.2,198.7" fill="none" stroke="#878787" stroke-width="1.25"/>
<polyline points="824.45,234.2 833.6,216.6 838.5,216.6" fill="none" stroke="#878787" stroke-width="1.25"/>
<polyline points="810.95,233.1 833.1,242.4 837.5,242.4" fill="none" stroke="#878787" stroke-width="1.25"/>
<polyline points="810.95,248.4 833,259 838,259" fill="none" stroke="#878787" stroke-width="1.25"/>
<polyline points="810.95,266.6 833,273.8 838,273.8" fill="none" stroke="#878787" stroke-width="1.25"/>
<polyline points="810.95,279.9 833,289.5 838,289.5" fill="none" stroke="#878787" stroke-width="1.25"/>
<polyline points="810.95,288.4 833,305.2 838,305.2" fill="none" stroke="#878787" stroke-width="1.25"/>
<text x="842" y="89.9" font-size="12" fill="#c2444f" textLength="49.5" lengthAdjust="spacingAndGlyphs">アメリカ</text>
<text x="891.4" y="89.9" font-size="12.2" fill="#c2444f">,</text>
<text x="896.5" y="89.9" font-size="12.2" fill="#c2444f" textLength="44.4" lengthAdjust="spacingAndGlyphs">59230</text>
<text x="845.8" y="145.8" font-size="12" fill="#44a272" textLength="39.5" lengthAdjust="spacingAndGlyphs">ドイツ</text>
<text x="885.2" y="145.8" font-size="12.2" fill="#44a272">,</text>
<text x="890.6" y="145.8" font-size="12.2" fill="#44a272" textLength="44.4" lengthAdjust="spacingAndGlyphs">49802</text>
<text x="845.2" y="168.2" font-size="12" fill="#52a2cc" textLength="47.9" lengthAdjust="spacingAndGlyphs">イギリス</text>
<text x="893" y="168.2" font-size="12.2" fill="#52a2cc">,</text>
<text x="900.2" y="168.2" font-size="12.2" fill="#52a2cc" textLength="44.4" lengthAdjust="spacingAndGlyphs">44900</text>
<text x="848.6" y="186.8" font-size="12" fill="#564a6a" textLength="49.1" lengthAdjust="spacingAndGlyphs">フランス</text>
<text x="897.4" y="186.8" font-size="12.2" fill="#564a6a">,</text>
<text x="902.5" y="186.8" font-size="12.2" fill="#564a6a" textLength="44.4" lengthAdjust="spacingAndGlyphs">44457</text>
<text x="847" y="202.5" font-size="12" fill="#d046dc" textLength="35" lengthAdjust="spacingAndGlyphs">カナダ</text>
<text x="883.4" y="202.5" font-size="12.2" fill="#d046dc">,</text>
<text x="890.8" y="202.5" font-size="12.2" fill="#d046dc" textLength="44.4" lengthAdjust="spacingAndGlyphs">42987</text>
<text x="842.4" y="220.3" font-size="12" fill="#dfc04e" textLength="50" lengthAdjust="spacingAndGlyphs">イタリア</text>
<text x="891.3" y="220.3" font-size="12.2" fill="#dfc04e">,</text>
<text x="896.4" y="220.3" font-size="12.2" fill="#dfc04e" textLength="44.4" lengthAdjust="spacingAndGlyphs">41820</text>
<text x="841.8" y="245.8" font-size="12.2" fill="#56565c" textLength="32.4" lengthAdjust="spacingAndGlyphs">OECD</text>
<text x="874.7" y="245.8" font-size="12" fill="#56565c" textLength="27.6" lengthAdjust="spacingAndGlyphs">平均</text>
<text x="902.7" y="245.8" font-size="12.2" fill="#56565c">,</text>
<text x="909.9" y="245.8" font-size="12.2" fill="#56565c" textLength="44.4" lengthAdjust="spacingAndGlyphs">41638</text>
<text x="843.7" y="262.4" font-size="12" fill="#865a3a" textLength="26.4" lengthAdjust="spacingAndGlyphs">韓国</text>
<text x="869" y="262.4" font-size="12.2" fill="#865a3a">,</text>
<text x="875" y="262.4" font-size="12.2" fill="#865a3a" textLength="44.4" lengthAdjust="spacingAndGlyphs">39812</text>
<text x="842.7" y="277.2" font-size="12" fill="#a2ca94" textLength="49.1" lengthAdjust="spacingAndGlyphs">スペイン</text>
<text x="890.8" y="277.2" font-size="12.2" fill="#a2ca94">,</text>
<text x="896.8" y="277.2" font-size="12.2" fill="#a2ca94" textLength="44.4" lengthAdjust="spacingAndGlyphs">37407</text>
<text x="842.7" y="292.9" font-size="12" fill="#5252b6" textLength="24.5" lengthAdjust="spacingAndGlyphs">日本</text>
<text x="868.1" y="292.9" font-size="12.2" fill="#5252b6">,</text>
<text x="874.1" y="292.9" font-size="12.2" fill="#5252b6" textLength="44.4" lengthAdjust="spacingAndGlyphs">35588</text>
<text x="842.6" y="308.6" font-size="12" fill="#e6b4e6" textLength="65.2" lengthAdjust="spacingAndGlyphs">ポーランド</text>
<text x="905.6" y="308.6" font-size="12.2" fill="#e6b4e6">,</text>
<text x="910.7" y="308.6" font-size="12.2" fill="#e6b4e6" textLength="44.4" lengthAdjust="spacingAndGlyphs">34725</text>
<text transform="translate(20.8,282.4) rotate(-90)" font-size="12.6" fill="#7f7f7f" text-anchor="middle">金額［ドル］</text>
<text x="375.6" y="28.6" font-size="19.3" fill="#686868" textLength="5.6" lengthAdjust="spacingAndGlyphs">1</text>
<text x="386.6" y="28.6" font-size="18.6" fill="#686868" textLength="168.2" lengthAdjust="spacingAndGlyphs">人あたり国民純所得</text>
<text x="556.2" y="28.6" font-size="19.3" fill="#686868" textLength="5.2" lengthAdjust="spacingAndGlyphs">(</text>
<text x="561.6" y="28.6" font-size="19.3" fill="#686868" textLength="33.8" lengthAdjust="spacingAndGlyphs">NNI</text>
<text x="595" y="28.6" font-size="19.3" fill="#686868" textLength="3.4" lengthAdjust="spacingAndGlyphs">)</text>
<text x="329.4" y="52.6" font-size="18.6" fill="#686868" textLength="37.4" lengthAdjust="spacingAndGlyphs">実質</text>
<text x="372.8" y="52.6" font-size="18.6" fill="#686868" textLength="148" lengthAdjust="spacingAndGlyphs">購買力平価換算値</text>
<text x="523" y="52.6" font-size="19.3" fill="#686868" textLength="5.8" lengthAdjust="spacingAndGlyphs">(</text>
<text x="530.4" y="52.6" font-size="19.3" fill="#686868" textLength="52.4" lengthAdjust="spacingAndGlyphs">2020</text>
<text x="582.6" y="52.6" font-size="18.6" fill="#686868" textLength="56.8" lengthAdjust="spacingAndGlyphs">年基準</text>
<text x="639.3" y="52.6" font-size="19.3" fill="#686868" textLength="4" lengthAdjust="spacingAndGlyphs">)</text>
<text x="47.6" y="629.3" font-size="13.2" fill="#333333" textLength="140.2" lengthAdjust="spacingAndGlyphs">OECD Data Explorer</text>
<text x="188.6" y="629.6" font-size="13" fill="#333333" textLength="65" lengthAdjust="spacingAndGlyphs">を基に作成</text>
</svg>
</body></html>
